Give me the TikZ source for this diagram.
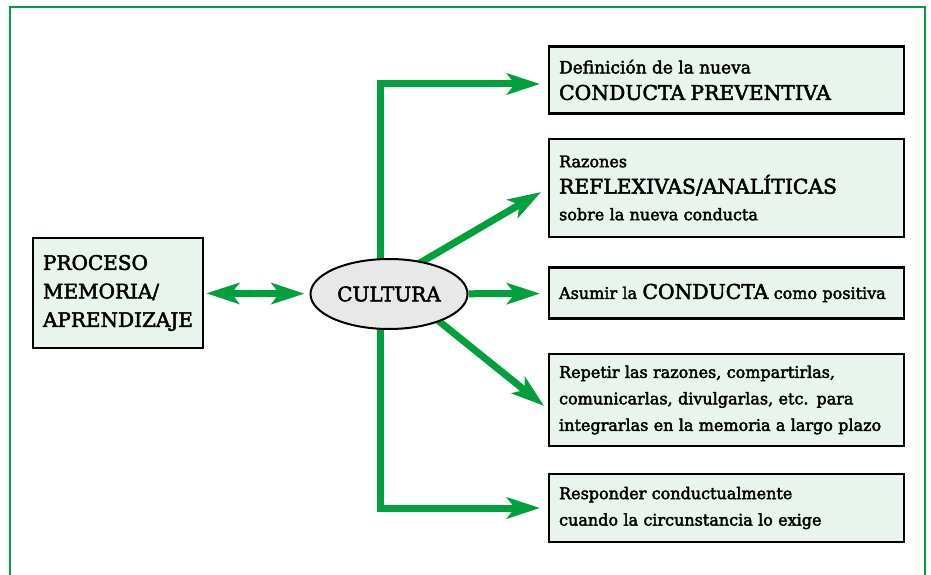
\documentclass[tikz,border=0pt]{standalone}
\usepackage{fontspec}
\setmainfont{DejaVu Serif}[FakeBold = 2.5]
\usetikzlibrary{arrows.meta, shapes.geometric, backgrounds}

\definecolor{verde}{RGB}{0,160,60}
\definecolor{verdeclaro}{RGB}{233,244,236}
\definecolor{grisclaro}{RGB}{232,232,232}
\newcommand{\chico}{\fontsize{16}{26.5}\selectfont}
\newcommand{\grande}{\fontsize{20.3}{28}\selectfont}

\begin{document}
\begin{tikzpicture}[x = 1pt, y = -1pt,
		> = {Stealth[length = 33pt, width = 21pt, inset = 8pt]},
		caja/.style = {draw, line width = 2.2pt, fill = verdeclaro, anchor = west, align = left, text width = 335pt, inner xsep = 10pt, font = \chico},
		flecha/.style = {->, verde, line width = 7pt, shorten > = 8pt}]
	\useasboundingbox (0, 0) rectangle (931, 575);
	\draw[verde, line width = 1.2pt] (10, 575) -- (10, 7) -- (925, 7) -- (925, 575);

		\node[draw, line width = 2.4pt, fill = verdeclaro, align = left, minimum width = 170pt, minimum height = 110pt, font = \fontsize{20}{28.5}\selectfont] (pro) at (118, 293) {PROCESO\\MEMORIA/\\APRENDIZAJE};
		\node[draw, ellipse, line width = 2pt, fill = grisclaro, minimum width = 157pt, minimum height = 70pt, inner sep = 0pt, font = \fontsize{20}{24}\selectfont] (cul) at (389, 294) {CULTURA};

		\node[caja, minimum height = 67pt] (def) at (548, 80) {{\fontsize{17}{26.5}\selectfont Definición de la nueva}\\{\grande CONDUCTA PREVENTIVA}};
		\node[caja, minimum height = 98pt] (raz) at (548, 188) {Razones\\{\grande REFLEXIVAS/ANALÍTICAS}\\sobre la nueva conducta};
		\node[caja, minimum height = 51pt] (asu) at (548, 293) {Asumir la {\grande CONDUCTA} como positiva};
		\node[caja, minimum height = 92pt] (rep) at (548, 400) {Repetir las razones, compartirlas,\\comunicarlas, divulgarlas, etc. para\\integrarlas en la memoria a largo plazo};
		\node[caja, minimum height = 68pt] (res) at (548, 508) {Responder conductualmente\\cuando la circunstancia lo exige};

	\begin{scope}[on background layer]
		\coordinate (tronco) at (380, 294);
		\coordinate (nucleo) at (389, 281);
		\draw[flecha] (tronco) |- ([yshift = -4pt]def.west);
		\draw[flecha] (tronco) |- (res.west);
		\draw[flecha] (nucleo) -- (raz.west);
		\draw[flecha, shorten > = 5pt] (nucleo) -- ([yshift = -9pt]rep.west);
	\end{scope}
		\draw[flecha] (cul) -- (asu);
		\draw[flecha, <->, shorten < = 2pt, shorten > = 5pt] (pro) -- (cul);
\end{tikzpicture}
\end{document}
